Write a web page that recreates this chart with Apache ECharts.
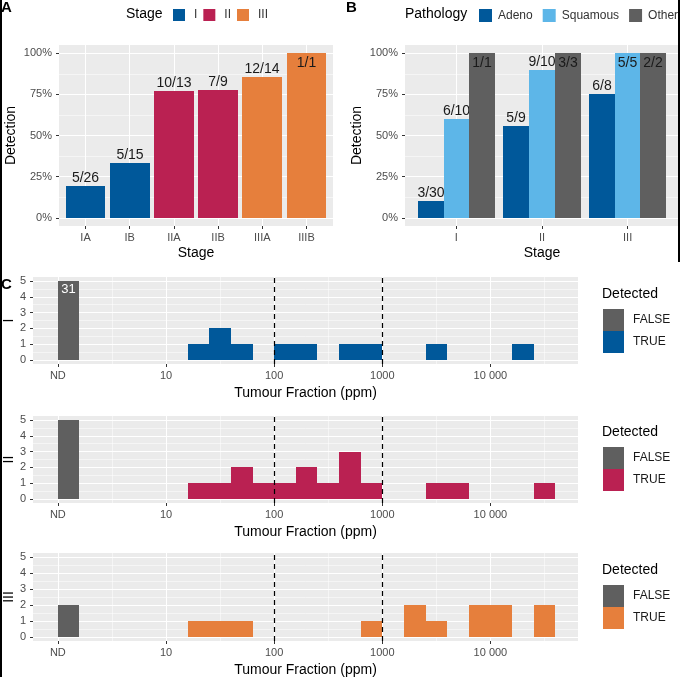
<!DOCTYPE html>
<html><head><meta charset="utf-8">
<script src="https://cdn.jsdelivr.net/npm/echarts@6/dist/echarts.min.js"></script>
<style>html,body{margin:0;padding:0;background:#fff}#chart{width:680px;height:677px}</style>
</head><body><div id="chart"></div>
<script>
// ---------------- data ----------------
const stageCategories = ['IA', 'IB', 'IIA', 'IIB', 'IIIA', 'IIIB'];
const stageGroupOf = ['I', 'I', 'II', 'II', 'III', 'III'];
const stageGroups = ['I', 'II', 'III'];
const stageDetected = [5, 5, 10, 7, 12, 1];
const stageTotal = [26, 15, 13, 9, 14, 1];

const pathStages = ['I', 'II', 'III'];
const pathologies = ['Adeno', 'Squamous', 'Other'];
const adenoDetected = [3, 5, 6];
const adenoTotal = [30, 9, 8];
const squamousDetected = [6, 9, 5];
const squamousTotal = [10, 10, 5];
const otherDetected = [1, 3, 2];
const otherTotal = [1, 3, 2];

const pctTicks = [0, 0.25, 0.5, 0.75, 1];
const pctMinor = [0.125, 0.375, 0.625, 0.875];

// Panel C: histograms of log10(tumour fraction, ppm); ND plotted at 1 ppm
const histRows = ['I', 'II', 'III'];
const ndCounts = [31, 5, 2];
const binStartLog10I = [1.2, 1.4, 1.6, 2.0, 2.2, 2.6, 2.8, 3.4, 4.2];
const binCountI = [1, 2, 1, 1, 1, 1, 1, 1, 1];
const binStartLog10II = [1.2, 1.4, 1.6, 1.8, 2.0, 2.2, 2.4, 2.6, 2.8, 3.4, 3.6, 4.4];
const binCountII = [1, 1, 2, 1, 1, 2, 1, 3, 1, 1, 1, 1];
const binStartLog10III = [1.2, 1.4, 1.6, 2.8, 3.2, 3.4, 3.8, 4.0, 4.4];
const binCountIII = [1, 1, 1, 1, 2, 1, 2, 2, 2];
const tfTickPpm = [1, 10, 100, 1000, 10000];
const tfTickLabels = ['ND', '10', '100', '1000', '10 000'];
const tfMinorLog10 = [0.5, 1.5, 2.5, 3.5, 4.5];
const thresholdPpm = [100, 1000];
const countTicks = [0, 1, 2, 3, 4, 5];
const countMinor = [0.5, 1.5, 2.5, 3.5, 4.5];

// ---------------- styling ----------------
const FONT = '"Liberation Sans", Arial, Helvetica, sans-serif';
const stageColors = { I: '#00589A', II: '#BA2152', III: '#E67F3C' };
const pathColors = { Adeno: '#00589A', Squamous: '#5DB6E8', Other: '#5F5F5F' };
const falseColor = '#5F5F5F';
const rowColors = [stageColors.I, stageColors.II, stageColors.III];
const binWidth = 0.2;
const countCap = 5;
const tfTickLog = tfTickPpm.map(v => Math.log10(v));
const rowBins = [[binStartLog10I, binCountI], [binStartLog10II, binCountII], [binStartLog10III, binCountIII]];

const gridsPos = [
  { left: 59, top: 45, width: 274, height: 181 },
  { left: 405, top: 45, width: 274, height: 181 },
  { left: 33, top: 277, width: 545, height: 87 },
  { left: 33, top: 416, width: 545, height: 87 },
  { left: 33, top: 553, width: 545, height: 88 }
];
const grid = gridsPos.map(g => Object.assign({ show: true, backgroundColor: '#EBEBEB', borderWidth: 0, containLabel: false, outerBoundsMode: 'none' }, g));

function majorAxis(gi, min, max, ticks, fmt, pos, name, nameGap, margin) {
  return {
    type: 'value', gridIndex: gi, min, max, position: pos,
    axisLine: { show: false, onZero: false },
    axisTick: { show: true, length: 3, customValues: ticks, lineStyle: { color: '#333', width: 1 } },
    axisLabel: { show: true, customValues: ticks, formatter: fmt, color: '#4D4D4D', fontSize: 11, fontFamily: FONT, margin },
    splitLine: { show: true, lineStyle: { color: '#FFFFFF', width: 1.1 } },
    name, nameLocation: 'middle', nameGap, nameMoveOverlap: false,
    nameTextStyle: { color: '#000', fontSize: 14, fontFamily: FONT }
  };
}
function minorAxis(gi, min, max, ticks, pos) {
  return {
    type: 'value', gridIndex: gi, min, max, position: pos,
    axisLine: { show: false, onZero: false },
    axisTick: { show: false, customValues: ticks },
    axisLabel: { show: false, customValues: ticks },
    splitLine: { show: true, lineStyle: { color: '#FFFFFF', width: 0.5 } }
  };
}
const pctFmt = v => Math.round(v * 100) + '%';
const tfFmt = v => { const i = tfTickLog.findIndex(t => Math.abs(t - v) < 1e-9); return i >= 0 ? tfTickLabels[i] : ''; };

const xAxis = [
  majorAxis(0, -0.6, stageCategories.length - 0.4, stageCategories.map((c, i) => i), v => stageCategories[Math.round(v)], 'bottom', 'Stage', 20, 6),
  majorAxis(1, -0.6, pathStages.length - 0.4, pathStages.map((c, i) => i), v => pathStages[Math.round(v)], 'bottom', 'Stage', 20, 6),
  majorAxis(2, -0.23, 4.81, tfTickLog, tfFmt, 'bottom', 'Tumour Fraction (ppm)', 22, 6),
  majorAxis(3, -0.23, 4.81, tfTickLog, tfFmt, 'bottom', 'Tumour Fraction (ppm)', 22, 6),
  majorAxis(4, -0.23, 4.81, tfTickLog, tfFmt, 'bottom', 'Tumour Fraction (ppm)', 22, 6),
  minorAxis(2, -0.23, 4.81, tfMinorLog10, 'bottom'),
  minorAxis(3, -0.23, 4.81, tfMinorLog10, 'bottom'),
  minorAxis(4, -0.23, 4.81, tfMinorLog10, 'bottom')
];
const cntFmt = v => String(Math.round(v));
const yAxis = [
  majorAxis(0, -0.05, 1.05, pctTicks, pctFmt, 'left', 'Detection', 41, 7),
  majorAxis(1, -0.05, 1.05, pctTicks, pctFmt, 'left', 'Detection', 41, 7),
  majorAxis(2, -0.25, 5.25, countTicks, cntFmt, 'left', histRows[0], 17, 7),
  majorAxis(3, -0.25, 5.25, countTicks, cntFmt, 'left', histRows[1], 17, 7),
  majorAxis(4, -0.25, 5.25, countTicks, cntFmt, 'left', histRows[2], 17, 7),
  minorAxis(0, -0.05, 1.05, pctMinor, 'left'),
  minorAxis(1, -0.05, 1.05, pctMinor, 'left'),
  minorAxis(2, -0.25, 5.25, countMinor, 'left'),
  minorAxis(3, -0.25, 5.25, countMinor, 'left'),
  minorAxis(4, -0.25, 5.25, countMinor, 'left')
];

function rectFrom(p0, p1) {
  const x0 = Math.round(Math.min(p0[0], p1[0])), x1 = Math.round(Math.max(p0[0], p1[0]));
  const y0 = Math.round(Math.min(p0[1], p1[1])), y1 = Math.round(Math.max(p0[1], p1[1]));
  return { x: x0, y: y0, width: x1 - x0, height: y1 - y0 };
}
// bar renderer (category index on a value axis)
function barRender(width, offset, labelOf) {
  return function (params, api) {
    const x = api.value(0), y = api.value(1);
    const p0 = api.coord([x + offset - width / 2, y]);
    const p1 = api.coord([x + offset + width / 2, 0]);
    const r = rectFrom(p0, p1);
    const full = y >= 0.999;
    return {
      type: 'group', children: [
        { type: 'rect', shape: r, style: { fill: api.visual('color') } },
        { type: 'text', style: {
            text: labelOf(Math.round(x)), x: r.x + r.width / 2, y: full ? r.y + 3 : r.y - 1,
            align: 'center', verticalAlign: full ? 'top' : 'bottom',
            fill: '#1A1A1A', fontSize: 14, fontFamily: FONT } }
      ]
    };
  };
}
function histRender(params, api) {
  const x0 = api.value(0), c = api.value(1);
  const h = Math.min(c, countCap);
  const r = rectFrom(api.coord([x0, h]), api.coord([x0 + binWidth, 0]));
  const children = [{ type: 'rect', shape: r, style: { fill: api.visual('color') } }];
  if (c > countCap) {
    children.push({ type: 'text', style: { text: String(c), x: r.x + r.width / 2, y: r.y + 2, align: 'center', verticalAlign: 'top', fill: '#FFFFFF', fontSize: 13, fontFamily: FONT } });
  }
  return { type: 'group', children };
}
function thresholdRender(params, api) {
  const x = api.value(0);
  const a = api.coord([x, -0.25]);
  const b = api.coord([x, 5.25]);
  const px = Math.round(a[0]) + 0.5;
  return { type: 'line', shape: { x1: px, y1: a[1], x2: px, y2: b[1] }, style: { stroke: '#000', lineWidth: 1.2, lineDash: [5, 4] } };
}

const series = [];
// Panel A
stageGroups.forEach(g => {
  const data = [];
  stageCategories.forEach((c, i) => { if (stageGroupOf[i] === g) data.push([i, stageDetected[i] / stageTotal[i]]); });
  series.push({ type: 'custom', name: g, xAxisIndex: 0, yAxisIndex: 0, itemStyle: { color: stageColors[g] },
    renderItem: barRender(0.9, 0, i => stageDetected[i] + '/' + stageTotal[i]), data, silent: true });
});
// Panel B
const pathDet = [adenoDetected, squamousDetected, otherDetected];
const pathTot = [adenoTotal, squamousTotal, otherTotal];
pathologies.forEach((p, k) => {
  const data = pathStages.map((s, i) => [i, pathDet[k][i] / pathTot[k][i]]);
  series.push({ type: 'custom', name: p, xAxisIndex: 1, yAxisIndex: 1, itemStyle: { color: pathColors[p] },
    renderItem: barRender(0.3, (k - 1) * 0.3, i => pathDet[k][i] + '/' + pathTot[k][i]), data, silent: true });
});
// Panel C
histRows.forEach((r, ri) => {
  series.push({ type: 'custom', name: 'FALSE', xAxisIndex: 2 + ri, yAxisIndex: 2 + ri, itemStyle: { color: falseColor },
    renderItem: histRender, data: [[Math.log10(tfTickPpm[0]), ndCounts[ri]]], silent: true });
  const [starts, counts] = rowBins[ri];
  series.push({ type: 'custom', name: 'TRUE', xAxisIndex: 2 + ri, yAxisIndex: 2 + ri, itemStyle: { color: rowColors[ri] },
    renderItem: histRender, data: starts.map((s, i) => [s, counts[i]]), silent: true });
  series.push({ type: 'custom', name: 'threshold', xAxisIndex: 2 + ri, yAxisIndex: 2 + ri, z: 5,
    renderItem: thresholdRender, data: thresholdPpm.map(v => [Math.log10(v)]), silent: true });
});

const legendText = { fontSize: 12, color: '#1A1A1A', fontFamily: FONT };
const legend = [
  { data: stageGroups, left: 173, top: 9, padding: 0, icon: 'rect', itemWidth: 12, itemHeight: 12, itemGap: 6, selectedMode: false,
    textStyle: Object.assign({}, legendText, { padding: [0, 0, 0, 4], color: '#333' }) },
  { data: pathologies, left: 479, top: 9, padding: 0, icon: 'rect', itemWidth: 13, itemHeight: 13, itemGap: 10, selectedMode: false,
    textStyle: Object.assign({}, legendText, { padding: [0, 0, 0, 1], color: '#333' }) }
];
histRows.forEach((r, ri) => {
  legend.push({ data: [{ name: 'FALSE', itemStyle: { color: falseColor } }, { name: 'TRUE', itemStyle: { color: rowColors[ri] } }],
    orient: 'vertical', left: 603, top: 309 + 138 * ri, padding: 0, icon: 'rect', itemWidth: 21, itemHeight: 22, itemGap: 0, selectedMode: false,
    textStyle: Object.assign({}, legendText, { padding: [0, 0, 0, 4] }) });
});

const letter = { fontSize: 15, fontWeight: 'bold', color: '#000', fontFamily: FONT };
const ltitle = { fontSize: 14, fontWeight: 'normal', color: '#000', fontFamily: FONT };
const title = [
  { text: 'A', left: 1, top: 0, padding: 0, textStyle: letter },
  { text: 'B', left: 346, top: 0, padding: 0, textStyle: letter },
  { text: 'C', left: 1, top: 277, padding: 0, textStyle: letter },
  { text: 'Stage', left: 126, top: 7, padding: 0, textStyle: ltitle },
  { text: 'Pathology', left: 405, top: 7, padding: 0, textStyle: ltitle }
];
histRows.forEach((r, ri) => title.push({ text: 'Detected', left: 602, top: 287 + 138 * ri, padding: 0, textStyle: ltitle }));

const chart = echarts.init(document.getElementById('chart'), null, { renderer: 'canvas' });
chart.setOption({
  animation: false,
  backgroundColor: '#FFFFFF',
  textStyle: { fontFamily: FONT },
  title, legend, grid, xAxis, yAxis, series,
  graphic: [
    { type: 'rect', left: 0, top: 0, shape: { width: 2, height: 677 }, style: { fill: '#000' }, z: 100 },
    { type: 'rect', left: 678, top: 0, shape: { width: 2, height: 262 }, style: { fill: '#000' }, z: 100 }
  ]
});
</script></body></html>
